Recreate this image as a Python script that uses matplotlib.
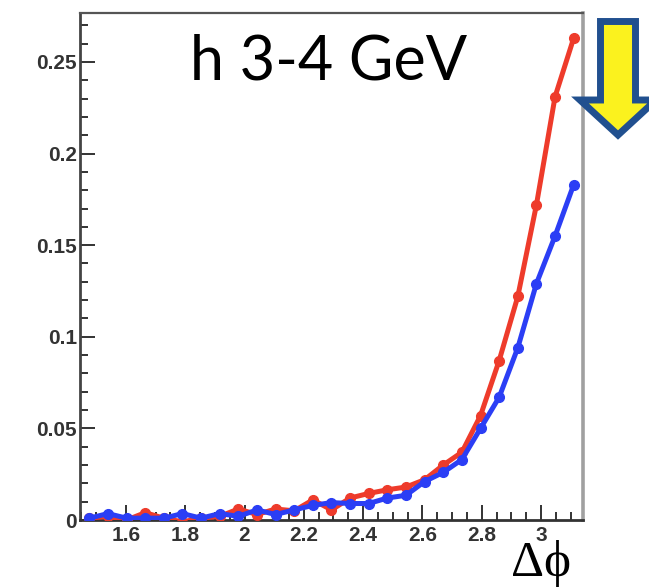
import numpy as np
import matplotlib
matplotlib.use("Agg")
import matplotlib.pyplot as plt
from matplotlib.patches import Polygon
from matplotlib.ticker import MultipleLocator

# Delta-phi bin centres (bins of width pi/50, from 23*pi/50 up to pi)
bin_index = np.arange(23, 50)
dphi = (bin_index + 0.5) * np.pi / 50

red_values = [0.001, 0.002, 0.000, 0.004, 0.001, -0.001, 0.001, 0.002, 0.006,
              0.003, 0.006, 0.005, 0.011, 0.0055, 0.012, 0.0145, 0.0165, 0.018,
              0.022, 0.030, 0.037, 0.057, 0.087, 0.122, 0.172, 0.231, 0.263]
blue_values = [0.001, 0.0035, 0.001, 0.001, 0.001, 0.0035, 0.001, 0.0035, 0.002,
               0.0055, 0.003, 0.0055, 0.008, 0.0095, 0.009, 0.009, 0.012, 0.0135,
               0.021, 0.026, 0.033, 0.050, 0.067, 0.094, 0.129, 0.155, 0.183]

x_ticks = [1.6, 1.8, 2.0, 2.2, 2.4, 2.6, 2.8, 3.0]
x_tick_labels = ["1.6", "1.8", "2", "2.2", "2.4", "2.6", "2.8", "3"]
y_ticks = [0, 0.05, 0.1, 0.15, 0.2, 0.25]
y_tick_labels = ["0", "0.05", "0.1", "0.15", "0.2", "0.25"]

W, H = 649, 587
fig = plt.figure(figsize=(W / 100, H / 100), dpi=100)
ax = fig.add_axes([80 / W, 1 - 520 / H, (583 - 80) / W, (520 - 13) / H])

red = "#ee3b2b"
blue = "#2b3ef5"
ax.plot(dphi, red_values, color=red, lw=3.6, marker="o", ms=7, zorder=3)
ax.plot(dphi, blue_values, color=blue, lw=3.6, marker="o", ms=7, zorder=4)

ax.set_xlim(23 * np.pi / 50, np.pi)
ax.set_ylim(0, 0.2767)

ax.set_xticks(x_ticks)
ax.set_xticklabels(x_tick_labels)
ax.set_yticks(y_ticks)
ax.set_yticklabels(y_tick_labels)
ax.xaxis.set_minor_locator(MultipleLocator(0.05))
ax.yaxis.set_minor_locator(MultipleLocator(0.01))

tick_color = "#333333"
ax.tick_params(which="both", direction="in", color=tick_color, width=1.4,
               top=False, right=False)
ax.tick_params(which="major", length=11)
ax.tick_params(which="minor", length=6)
ax.tick_params(axis="x", which="major", pad=4)
ax.tick_params(axis="y", which="major", pad=2)
for lab in ax.get_xticklabels() + ax.get_yticklabels():
    lab.set_fontfamily("Liberation Sans")
    lab.set_fontweight("bold")
    lab.set_fontsize(15)
    lab.set_color("#333333")

ax.spines["left"].set_color("#444444")
ax.spines["left"].set_linewidth(2.0)
ax.spines["bottom"].set_color("#333333")
ax.spines["bottom"].set_linewidth(2.0)
ax.spines["top"].set_color("#555555")
ax.spines["top"].set_linewidth(1.6)
ax.spines["right"].set_color("#a0a0a0")
ax.spines["right"].set_linewidth(2.6)

# Title inside the frame
fig.text(190 / W, 1 - 79 / H, "h 3-4 GeV", fontfamily=["Lato", "DejaVu Sans"],
         fontsize=44, color="black", ha="left", va="baseline")

# Axis label below the right end of the x axis
fig.text(541 / W, 1 - 576 / H, "\u0394\u03d5",
         fontfamily=["Liberation Serif", "DejaVu Serif"], fontsize=37,
         color="black", ha="center", va="baseline")

# Down arrow to the right of the frame
cx = 618
pts = [(cx - 17.5, 21.5), (cx + 17.5, 21.5), (cx + 17.5, 100), (cx + 38, 100),
       (cx, 135), (cx - 38, 100), (cx - 17.5, 100)]
pts = [(x / W, 1 - y / H) for x, y in pts]
arrow = Polygon(pts, closed=True, facecolor="#fbf21e", edgecolor="#21508f",
                linewidth=5, joinstyle="miter", transform=fig.transFigure)
fig.add_artist(arrow)

fig.savefig("out.png", dpi=100)
